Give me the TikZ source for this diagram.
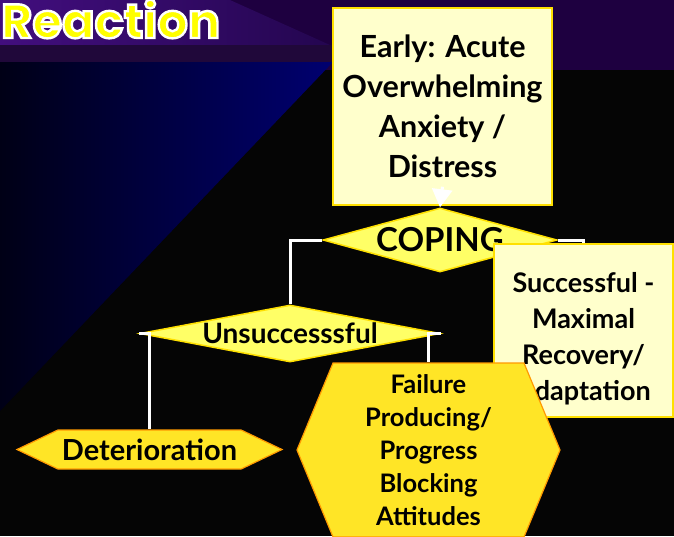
\documentclass[tikz,border=0pt]{standalone}
\usepackage{fontspec}
\setmainfont{Lato}
\newfontfamily\titlefont{Poppins}
\usetikzlibrary{shapes.geometric,shapes.symbols,arrows.meta,positioning}
\definecolor{slideblack}{RGB}{5,5,5}
\definecolor{topband}{RGB}{30,0,64}
\definecolor{titlebarL}{RGB}{66,14,126}
\definecolor{titlebarR}{RGB}{36,6,80}
\definecolor{midband}{RGB}{32,8,58}
\definecolor{navyL}{RGB}{0,0,22}
\definecolor{navyR}{RGB}{0,0,112}
\definecolor{paleyellow}{RGB}{255,255,204}
\definecolor{boxedge}{RGB}{255,224,0}
\definecolor{diafill}{RGB}{255,255,102}
\definecolor{hexfill}{RGB}{255,229,38}
\definecolor{hexedge}{RGB}{255,153,0}
\definecolor{titleyellow}{RGB}{255,255,0}
% white outline round the title letters (fill + stroke render mode)
\newcommand\outlined[1]{\special{pdf:literal direct 2 Tr 2.4 w 1 1 1 RG}#1\special{pdf:literal direct 0 Tr}}

\begin{document}
\begin{tikzpicture}[
    x=1pt, y=-1pt,
    infobox/.style={rectangle, draw=boxedge, fill=paleyellow, line width=1.5pt,
                    align=center, inner sep=0pt, text=black},
    decision/.style={diamond, draw=boxedge, fill=diafill, line width=1.5pt,
                     inner sep=0pt, text=black},
    outcome/.style={signal, signal to=east and west, draw=hexedge, fill=hexfill,
                    line width=1.2pt, align=center, inner sep=0pt, text=black},
    link/.style={draw=white, line width=3pt},
]

% Slide background
\clip (0,0) rectangle (674,536);
\fill[slideblack] (0,0) rectangle (674,536);
\fill[topband] (0,0) rectangle (674,70);
\shade[left color=titlebarL, right color=titlebarR] (0,0) -- (230,0) -- (330,45) -- (0,45) -- cycle;
\fill[midband] (0,45) rectangle (333,62);
\shade[left color=navyL, right color=navyR] (0,62) -- (333,62) -- (0,411) -- cycle;

% Title
\node[font=\titlefont\bfseries\fontsize{48}{48}\selectfont, text=titleyellow,
      anchor=base west, inner sep=0pt] (title) at (1,38) {\outlined{Reaction}};

% Flow nodes
\node[infobox, minimum width=219, minimum height=197, font=\bfseries\fontsize{30.5}{40}\selectfont]
    (early) at (442.5,106.5) {Early: Acute\\Overwhelming\\Anxiety /\\Distress};
\node[decision, minimum width=234, minimum height=64, aspect=3.66, font=\bfseries\fontsize{33}{33}\selectfont]
    (coping) at (440,240) {COPING};
\node[decision, minimum width=300, minimum height=57, aspect=5.26, font=\bfseries\fontsize{28}{28}\selectfont]
    (unsucc) at (290,333.5) {Unsuccesssful};
\node[outcome, minimum width=265, minimum height=39, signal pointer angle=51,
      font=\bfseries\fontsize{29}{29}\selectfont]
    (deter) at (149.5,449.5) {Deterioration};
\node[infobox, minimum width=179, minimum height=173, font=\bfseries\fontsize{27}{36}\selectfont]
    (success) at (583.5,330.5) {\rule{0pt}{36pt}Successful -\\Maximal\\Recovery/\\Adaptation};
\node[outcome, minimum width=263, minimum height=174, signal pointer angle=135,
      font=\bfseries\fontsize{25.5}{33}\selectfont]
    (failure) at (428.5,450) {Failure\\Producing/\\Progress\\Blocking\\Attitudes};

% Links
\draw[link] (coping.west) -| (unsucc.north);
\draw[link] (coping.east) -| (success.north);
\draw[link] (unsucc.west) -| (deter.north);
\draw[link] (unsucc.east) -| (failure.north);
\draw[white, line width=3pt, -{Triangle[width=20pt,length=18pt]}] ([yshift=19pt]early.south) -- (coping.north);

\end{tikzpicture}
\end{document}
